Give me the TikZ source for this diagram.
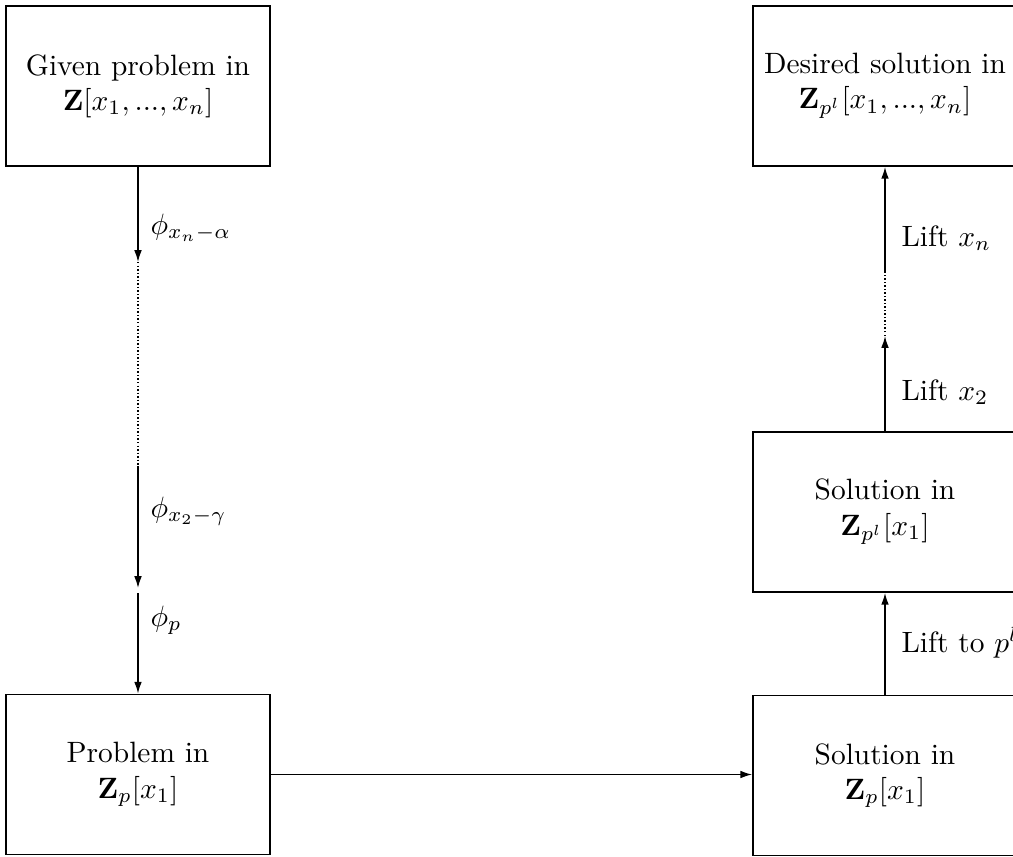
\documentclass[tikz,border=0pt]{standalone}
\usepackage{amsmath}
\usetikzlibrary{arrows.meta}
\begin{document}
\begin{tikzpicture}[x=0.34pt,y=-0.34pt,
  stage/.style={draw, line width=0.6pt, minimum width=89.76pt, minimum height=54.4pt,
                align=center, inner sep=0pt},
  map/.style={line width=0.5pt, -{Latex[length=4pt,width=2.6pt]}},
  gap/.style={line width=0.5pt, dash pattern=on 0.5pt off 0.7pt},
  lab/.style={anchor=west, inner sep=0pt}]
\useasboundingbox (0,0) rectangle (1013,856);

% stages of the computation
\node[stage] (given) at (138,86)    {Given problem in\\ $\mathbf{Z}[x_1, ..., x_n]$};
\node[stage] (prob)  at (138,774.5) {Problem in\\ $\mathbf{Z}_p[x_1]$};
\node[stage] (solp)  at (885,775.5) {Solution in\\ $\mathbf{Z}_p[x_1]$};
\node[stage] (soll)  at (885,512)   {Solution in\\ $\mathbf{Z}_{p^l}[x_1]$};
\node[stage] (want)  at (885,86)    {Desired solution in\\ $\mathbf{Z}_{p^l}[x_1, ..., x_n]$};

% reduction steps on the left
\coordinate (d1) at (138,262);
\coordinate (d2) at (138,466);
\coordinate (d3) at (138,588);
\coordinate (d4) at (138,593);
\draw[map] (given.south) -- (d1);
\draw[gap] (d1) -- (d2);
\draw[map] (d2) -- (d3);
\draw[map] (d4) -- (prob.north);
\node[lab] (phin) at (150,228) {$\phi_{x_n-\alpha}$};
\node[lab] (phi2) at (150,511) {$\phi_{x_2-\gamma}$};
\node[lab] (phip) at (150,620) {$\phi_p$};

% solving over Z_p
\draw[map] (prob.east) -- (prob.east -| solp.west);

% lifting steps on the right
\coordinate (u1) at (885,336);
\coordinate (u2) at (885,272);
\draw[map] (solp.north) -- (soll.south);
\draw[map] (soll.north) -- (u1);
\draw[gap] (u1) -- (u2);
\draw[map] (u2) -- (want.south);
\node[lab] (lp) at (901,643) {Lift to $p^l$};
\node[lab] (l2) at (901,392) {Lift $x_2$};
\node[lab] (ln) at (901,238) {Lift $x_n$};
\end{tikzpicture}
\end{document}
